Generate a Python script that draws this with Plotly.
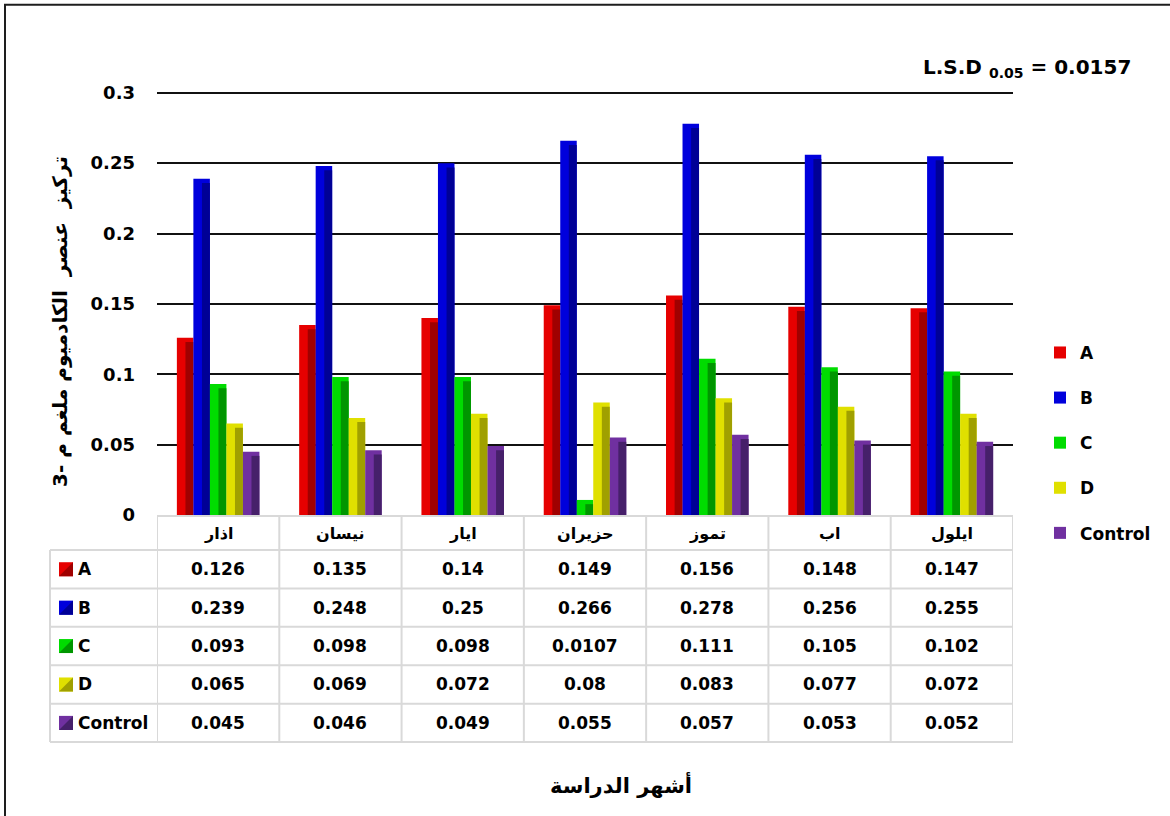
import plotly.graph_objects as go

# ---- data -------------------------------------------------------------
months = ["اذار", "نيسان", "ايار", "حزيران", "تموز", "اب", "ايلول"]
series_names = ["A", "B", "C", "D", "Control"]
a_vals = [0.126, 0.135, 0.14, 0.149, 0.156, 0.148, 0.147]
b_vals = [0.239, 0.248, 0.25, 0.266, 0.278, 0.256, 0.255]
c_vals = [0.093, 0.098, 0.098, 0.0107, 0.111, 0.105, 0.102]
d_vals = [0.065, 0.069, 0.072, 0.08, 0.083, 0.077, 0.072]
control_vals = [0.045, 0.046, 0.049, 0.055, 0.057, 0.053, 0.052]
y_tick_vals = [0, 0.05, 0.1, 0.15, 0.2, 0.25, 0.3]
y_tick_text = ["0", "0.05", "0.1", "0.15", "0.2", "0.25", "0.3"]
y_title = "تركيز  عنصر  الكادميوم ملغم م -3"
x_title = "أشهر الدراسة"
lsd_label = "L.S.D <sub>0.05</sub> = 0.0157"

series_values = [a_vals, b_vals, c_vals, d_vals, control_vals]

# ---- styling ------------------------------------------------------------
face_colors = ["#e60000", "#0000dc", "#00dc00", "#e0e000", "#7030a0"]
shade_colors = ["#a00000", "#000096", "#009600", "#a0a000", "#46206a"]
FONT = "DejaVu Sans"
W, H = 1170, 816
Y_MAX = 0.302                        # a little headroom so the 0.3 grid line is kept
L, R, B = 157, 1013, 515             # plot area edges in page pixels
T = B - (B - 93) * Y_MAX / 0.3       # top edge so that 0.3 sits at y=93
ROW_H = 38.4                         # table row height
HEADER_BOTTOM = 550

def px2x(px):
    return (px - L) / (R - L)

def py2y(py):
    return (B - py) / (B - T)

bar_w = 0.135
shade_frac = 0.48
bevel = 0.003

fig = go.Figure()
n = len(series_names)
for i, (name, vals) in enumerate(zip(series_names, series_values)):
    off = -n / 2 * bar_w + i * bar_w
    fig.add_trace(go.Bar(
        x=list(range(len(months))), y=vals, name=name,
        width=bar_w, offset=off,
        marker=dict(color=face_colors[i], line=dict(width=0)),
        legendgroup=name, showlegend=True,
    ))
    # darker right-hand face for the bevelled look
    fig.add_trace(go.Bar(
        x=list(range(len(months))), y=[v - bevel for v in vals],
        width=bar_w * shade_frac, offset=off + bar_w * (1 - shade_frac),
        marker=dict(color=shade_colors[i], line=dict(width=0)),
        legendgroup=name, showlegend=False, hoverinfo="skip",
    ))

shapes = []
annotations = []
grey = "#d9d9d9"

def bold(size):
    return dict(family=FONT, size=size, color="black", weight="bold")

# outer frame
shapes.append(dict(type="rect", xref="paper", yref="paper",
                   x0=px2x(5), x1=px2x(1180), y0=py2y(830), y1=py2y(5),
                   line=dict(color="#1e1e1e", width=2), fillcolor="rgba(0,0,0,0)",
                   layer="above"))

# data table grid
row_tops = [HEADER_BOTTOM + k * ROW_H for k in range(n + 1)]
for yy in row_tops:
    shapes.append(dict(type="line", xref="paper", yref="paper",
                       x0=px2x(50), x1=1, y0=py2y(yy), y1=py2y(yy),
                       line=dict(color=grey, width=2)))
for k in range(len(months) + 1):
    shapes.append(dict(type="line", xref="x", yref="paper",
                       x0=k - 0.5, x1=k - 0.5, y0=py2y(row_tops[-1]), y1=0,
                       line=dict(color=grey, width=2)))
shapes.append(dict(type="line", xref="paper", yref="paper",
                   x0=px2x(50), x1=px2x(50), y0=py2y(row_tops[-1]), y1=py2y(HEADER_BOTTOM),
                   line=dict(color=grey, width=2)))

# month headers
for j, m in enumerate(months):
    annotations.append(dict(x=j, y=py2y((B + HEADER_BOTTOM) / 2 + 1), xref="x", yref="paper",
                            text=m, showarrow=False, xanchor="center", yanchor="middle",
                            font=bold(16)))

# table rows
half = 7 / (B - T)
for i, (name, vals) in enumerate(zip(series_names, series_values)):
    yc = py2y(HEADER_BOTTOM + (i + 0.5) * ROW_H)
    shapes.append(dict(type="rect", xref="paper", yref="paper",
                       x0=px2x(59), x1=px2x(73), y0=yc - half, y1=yc + half,
                       fillcolor=face_colors[i], line=dict(width=0)))
    shapes.append(dict(type="path", xref="paper", yref="paper",
                       path=f"M {px2x(73)} {yc + half} L {px2x(73)} {yc - half} L {px2x(59)} {yc - half} Z",
                       fillcolor=shade_colors[i], line=dict(width=0)))
    annotations.append(dict(x=px2x(76), y=yc, xref="paper", yref="paper",
                            text=name, showarrow=False, xanchor="left", yanchor="middle",
                            font=bold(17)))
    for j, v in enumerate(vals):
        annotations.append(dict(x=j, y=yc, xref="x", yref="paper",
                                text=str(v), showarrow=False,
                                xanchor="center", yanchor="middle", font=bold(17)))

# titles
annotations.append(dict(x=px2x(60), y=py2y(322), xref="paper", yref="paper",
                        text=y_title, showarrow=False, textangle=-90,
                        xanchor="center", yanchor="middle", font=bold(20)))
annotations.append(dict(x=px2x(621), y=py2y(784), xref="paper", yref="paper",
                        text=x_title, showarrow=False,
                        xanchor="center", yanchor="middle", font=bold(21)))
annotations.append(dict(x=px2x(1027), y=py2y(68), xref="paper", yref="paper",
                        text=lsd_label, showarrow=False,
                        xanchor="center", yanchor="middle", font=bold(20)))

fig.update_layout(
    width=W, height=H,
    margin=dict(l=L, r=W - R, t=T, b=H - B, pad=0),
    paper_bgcolor="white", plot_bgcolor="white",
    barmode="overlay",
    showlegend=True,
    legend=dict(x=px2x(1040), y=py2y(335), xanchor="left", yanchor="top",
                font=bold(17),
                traceorder="grouped", tracegroupgap=20, itemclick=False,
                bgcolor="rgba(0,0,0,0)"),
    xaxis=dict(range=[-0.5, len(months) - 0.5], showticklabels=False, showgrid=False,
               zeroline=False, showline=True, linecolor=grey, linewidth=2, fixedrange=True),
    yaxis=dict(range=[0, Y_MAX], tickvals=y_tick_vals, ticktext=y_tick_text,
               showgrid=True, gridcolor="#111111", gridwidth=2, zeroline=False,
               showline=False, ticks="", ticklabelstandoff=21,
               tickfont=bold(18), fixedrange=True),
    shapes=shapes, annotations=annotations,
)

fig.write_html("out.html")
